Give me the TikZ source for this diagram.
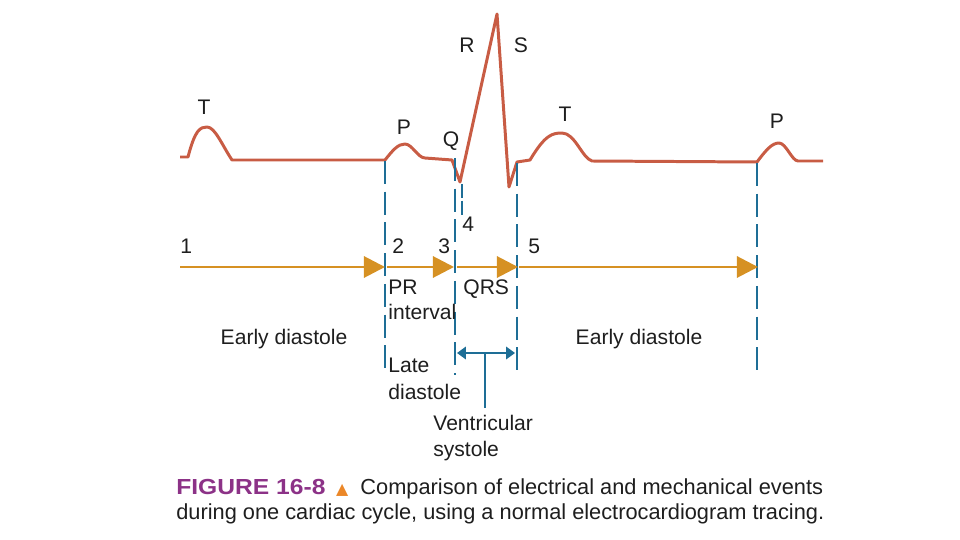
\documentclass[tikz,border=0pt]{standalone}
\usepackage{fontspec}
\setmainfont{Liberation Sans}
\newfontfamily\symfont{DejaVu Sans}
\newfontfamily\figfont[FakeStretch=1.13]{Liberation Sans}
\usetikzlibrary{arrows.meta, positioning}

\definecolor{ecgred}{RGB}{200,92,68}
\definecolor{floworange}{RGB}{214,145,35}
\definecolor{markblue}{RGB}{30,110,150}
\definecolor{figpurple}{RGB}{140,50,135}
\definecolor{tricolor}{RGB}{235,135,40}
\definecolor{txt}{RGB}{30,30,30}

\begin{document}
\begin{tikzpicture}[x=0.02cm, y=-0.02cm,
    lbl/.style={font=\fontsize{12}{14}\selectfont, text=txt, inner sep=0pt},
    caplbl/.style={font=\fontsize{12.4}{14}\selectfont, text=txt, inner sep=0pt},
    marker/.style={draw=markblue, line width=1.1pt, dash pattern=on 13pt off 4.5pt},
    flow/.style={draw=floworange, line width=1.7pt, -{Triangle[length=12pt, width=12pt]}},
    span/.style={draw=markblue, line width=1.1pt, {Triangle[length=5pt, width=7pt]}-{Triangle[length=5pt, width=7pt]}}]
    \useasboundingbox (0,0) rectangle (960,540);

    % ECG tracing
    \draw[ecgred, line width=1.7pt, line join=round]
        (180,157) -- (188,157) .. controls (195,130) and (200,127) .. (207,127)
        .. controls (215,127) and (222,145) .. (232,160) -- (385,160)
        .. controls (393,150) and (398,144) .. (405,144)
        .. controls (412,144) and (418,158) .. (425,158) -- (452,160)
        -- (460,182) -- (497,14) -- (509,187) -- (517,162) -- (530,160)
        .. controls (545,135) and (552,133) .. (562,133)
        .. controls (575,133) and (582,158) .. (592,161) -- (757,162)
        .. controls (766,150) and (772,143) .. (779,143)
        .. controls (786,143) and (792,161) .. (798,161) -- (823,161);

    % Wave labels
    \foreach \n/\x/\y/\t in {tA/204/115/T, pA/404/135/P, q/451/147/Q, r/467/53/R, s/521/53/S, tB/565/122/T, pB/777/129/P} {
        \node[lbl, anchor=base] (\n) at (\x,\y) {\t};
    }

    % Event markers
    \coordinate (m1) at (385,161);
    \coordinate (m2) at (455,158);
    \coordinate (m3) at (462,184);
    \coordinate (m4) at (517,163);
    \coordinate (m5) at (757,163);
    \draw[marker] (m1) -- (385,375);
    \draw[marker] (m2) -- (455,375);
    \draw[markblue, line width=1.1pt, dash pattern=on 8pt off 1.5pt] (m3) -- (462,216);
    \draw[marker] (m4) -- (517,375);
    \draw[marker] (m5) -- (757,375);

    % Sequence arrows
    \foreach \a/\b/\c/\d in {180/385/f1/f2, 387/454/f3/f4, 457/518/f5/f6, 519/758/f7/f8} {
        \coordinate (\c) at (\a,267);
        \coordinate (\d) at (\b,267);
        \draw[flow] (\c) -- (\d);
    }

    % Numbers
    \foreach \n/\x/\y in {1/180/254, 2/392/254, 3/438/254, 4/462/232, 5/528/254} {
        \node[lbl, anchor=base west] (n\n) at (\x,\y) {\n};
    }

    % Phase labels
    \node[lbl, anchor=base west] (pr) at (388,295) {PR};
    \node[lbl, anchor=base west] (interval) at (388,320) {interval};
    \node[lbl, anchor=base west] (qrs) at (463,295) {QRS};
    \node[lbl, anchor=base] (early1) at (284,345) {Early diastole};
    \node[lbl, anchor=base] (early2) at (639,345) {Early diastole};
    \node[lbl, anchor=base west] (late) at (388,373) {Late};
    \node[lbl, anchor=base west] (latediast) at (388,399) {diastole};
    \node[lbl, anchor=base west] (vent) at (433,430) {Ventricular};
    \node[lbl, anchor=base west] (syst) at (433,456) {systole};

    % Ventricular systole span
    \coordinate (v1) at (457,353);
    \coordinate (v2) at (515,353);
    \coordinate (vm) at (485,353);
    \draw[span] (v1) -- (v2);
    \draw[markblue, line width=1.1pt] (vm) -- (485,408);

    % Caption
    \node[caplbl, anchor=base west] (cap1) at (176,494)
        {{\figfont\bfseries\color{figpurple}FIGURE 16-8}\hspace{6pt}{\symfont\fontsize{9}{10}\selectfont\textcolor{tricolor}{▲}}\hspace{7pt}Comparison of electrical and mechanical events};
    \node[caplbl, anchor=base west] (cap2) at (176,519)
        {during one cardiac cycle, using a normal electrocardiogram tracing.};
\end{tikzpicture}
\end{document}
